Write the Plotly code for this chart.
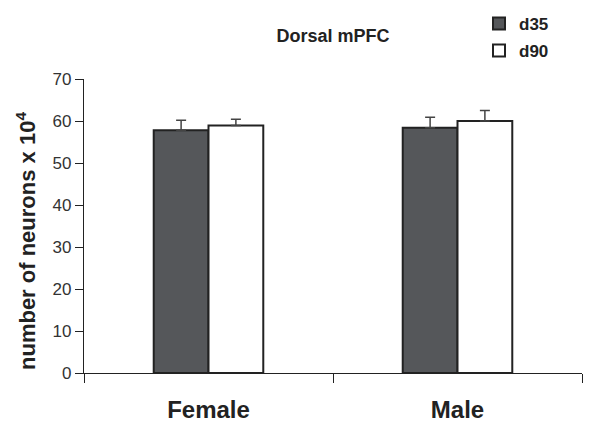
import plotly.graph_objects as go

categories = ["Female", "Male"]
d35 = [57.8, 58.4]
d35_err = [2.4, 2.5]
d90 = [58.9, 60.0]
d90_err = [1.5, 2.5]

FONT = "Liberation Sans, Arial, sans-serif"

fig = go.Figure()
fig.add_trace(go.Bar(
    name="<b>d35</b>", x=categories, y=d35,
    marker=dict(color="#55575a", line=dict(color="#222222", width=2)),
    error_y=dict(type="data", array=d35_err, symmetric=False, arrayminus=[0, 0],
                 color="#444444", thickness=1.5, width=5),
    legend="legend",
))
fig.add_trace(go.Bar(
    name="<b>d90</b>", x=categories, y=d90,
    marker=dict(color="#ffffff", line=dict(color="#222222", width=2)),
    error_y=dict(type="data", array=d90_err, symmetric=False, arrayminus=[0, 0],
                 color="#444444", thickness=1.5, width=5),
    legend="legend2",
))

fig.update_layout(
    width=603, height=424,
    margin=dict(l=84, r=21, t=79, b=51, autoexpand=False),
    paper_bgcolor="white", plot_bgcolor="white",
    barmode="group", bargap=0.56, bargroupgap=0,
    font=dict(family=FONT, color="#222222"),
    title=dict(text="<b>Dorsal mPFC</b>", x=333 / 603, xanchor="center",
               y=1 - 36 / 424, yanchor="middle",
               font=dict(size=18, color="#222222")),
    legend=dict(xref="container", yref="container", x=479 / 603, y=1 - 6 / 424,
                xanchor="left", yanchor="top",
                font=dict(size=17, color="#222222"), bgcolor="rgba(0,0,0,0)",
                itemwidth=30),
    legend2=dict(xref="container", yref="container", x=479 / 603, y=1 - 33 / 424,
                 xanchor="left", yanchor="top",
                 font=dict(size=17, color="#222222"), bgcolor="rgba(0,0,0,0)",
                 itemwidth=30),
    showlegend=True,
    xaxis=dict(type="category", tickson="boundaries", ticks="outside", ticklen=9,
               tickcolor="#222222", showline=True, linecolor="#222222", linewidth=1.3,
               tickfont=dict(size=24, color="#222222", family=FONT),
               ticklabelstandoff=15, showgrid=False, automargin=False,
               tickvals=categories, ticktext=["<b>" + c + "</b>" for c in categories]),
    yaxis=dict(range=[0, 70], dtick=10, ticks="outside", ticklen=8,
               tickcolor="#222222", showline=True, linecolor="#222222", linewidth=1.3,
               tickfont=dict(size=17, color="#333333"), showgrid=False, zeroline=False,
               automargin=False),
    annotations=[dict(
        text="<b>number of neurons x 10<sup>4</sup></b>",
        textangle=-90, xref="paper", yref="paper",
        x=-(84 - 26) / 498, y=(373 - 241) / 294,
        xanchor="center", yanchor="middle", showarrow=False,
        font=dict(size=22, color="#222222", family=FONT),
    )],
)

fig.write_html("out.html")
